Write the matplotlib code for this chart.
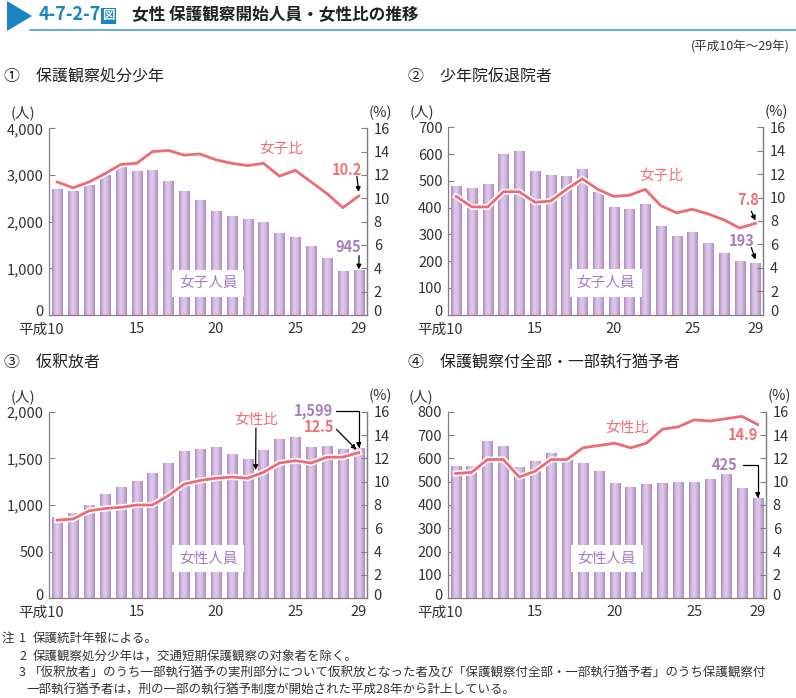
import numpy as np
import matplotlib
matplotlib.use("Agg")
import matplotlib.pyplot as plt
import matplotlib.patheffects as pe
from matplotlib.colors import LinearSegmentedColormap
from matplotlib.patches import Polygon
from matplotlib.lines import Line2D
import matplotlib.transforms as mtransforms

plt.rcParams['font.family'] = ['Noto Sans CJK JP', 'DejaVu Sans']

# ---------------- data ----------------
years = list(range(10, 30))
tick_pos = [0, 5, 10, 15, 19]
tick_labels = ['平成10', '15', '20', '25', '29']

juv_n = [2690, 2640, 2780, 2980, 3180, 3085, 3105, 2865, 2655, 2455,
         2220, 2100, 2055, 1975, 1750, 1670, 1465, 1210, 935, 945]
juv_r = [11.4, 10.9, 11.4, 12.1, 12.9, 13.0, 14.0, 14.1, 13.7, 13.8,
         13.3, 13.0, 12.8, 13.0, 11.9, 12.4, 11.4, 10.4, 9.2, 10.2]

tr_n = [481, 474, 487, 601, 611, 535, 522, 518, 545, 459,
        401, 393, 413, 331, 294, 308, 266, 229, 199, 193]
tr_r = [10.1, 9.2, 9.2, 10.5, 10.5, 9.6, 9.7, 10.7, 11.6, 10.7,
        10.1, 10.2, 10.7, 9.3, 8.7, 9.0, 8.6, 8.1, 7.4, 7.8]

par_n = [864, 911, 989, 1107, 1182, 1254, 1336, 1446, 1571, 1593,
         1618, 1539, 1489, 1586, 1704, 1721, 1611, 1629, 1596, 1599]
par_r = [6.7, 6.8, 7.5, 7.7, 7.8, 8.0, 8.0, 8.8, 9.8, 10.1,
         10.3, 10.4, 10.3, 10.8, 11.6, 11.8, 11.6, 12.1, 12.1, 12.5]

sus_n = [563, 563, 673, 649, 559, 584, 621, 591, 576, 543,
         491, 473, 487, 490, 494, 496, 506, 531, 470, 425]
sus_r = [10.7, 10.8, 11.9, 11.9, 10.4, 10.9, 11.9, 11.9, 12.9, 13.1,
         13.3, 12.9, 13.3, 14.5, 14.7, 15.3, 15.2, 15.4, 15.6, 14.9]

# ---------------- style ----------------
W, H = 796, 698
LINE_C = '#ef6b73'
PINK_T = '#f07078'
PURP_T = '#a77cc0'
SPINE_C = '#808080'
TXT_C = '#333333'
BLUE = '#1a84bd'

bar_cmap = LinearSegmentedColormap.from_list(
    'bar', ['#ad86c1', '#d4bce1', '#dfcde8', '#cbadd9', '#ae88c2'])
grad = np.linspace(0, 1, 64).reshape(1, -1)

fig = plt.figure(figsize=(W / 100, H / 100), dpi=100)


def px_axes(left, top, right, bottom):
    return fig.add_axes([left / W, 1 - bottom / H, (right - left) / W, (bottom - top) / H])


def shift(label, dx_px, dy_px):
    label.set_transform(label.get_transform() +
                        mtransforms.ScaledTranslation(dx_px / 100, dy_px / 100, fig.dpi_scale_trans))


def panel(box, counts, ratio, ymax, ystep, ratio_label, count_label, title, title_xy):
    ax = px_axes(*box)
    x = np.arange(len(counts))
    bars = ax.bar(x, counts, width=0.64, color='#c9aad7', zorder=2, linewidth=0)
    for rect in bars:
        x0 = rect.get_x()
        ax.imshow(grad, cmap=bar_cmap, extent=[x0, x0 + rect.get_width(), 0, rect.get_height()],
                  aspect='auto', zorder=2.5, interpolation='bilinear')
    ax.set_xlim(-0.5, len(counts) - 0.5)
    ax.set_ylim(0, ymax)
    yt = np.arange(0, ymax + 1, ystep)
    ax.set_yticks(yt)
    ax.set_yticklabels([f'{int(v):,}' for v in yt])
    ax.set_xticks(tick_pos)
    ax.set_xticklabels(tick_labels)
    ax.tick_params(axis='y', direction='in', length=4, width=0.8, color=SPINE_C,
                   labelsize=10.5, labelcolor=TXT_C, pad=4)
    ax.tick_params(axis='x', length=0, labelsize=10.5, labelcolor=TXT_C, pad=5)
    first = ax.get_xticklabels()[0]
    first.set_horizontalalignment('right')
    shift(first, 7, -1)
    shift(ax.get_yticklabels()[0], 0, 4)
    for s in ['top']:
        ax.spines[s].set_visible(False)
    for s in ['left', 'right', 'bottom']:
        ax.spines[s].set_color(SPINE_C)
        ax.spines[s].set_linewidth(0.9)

    ax2 = ax.twinx()
    ax2.plot(x, ratio, color=LINE_C, lw=2.0, zorder=5, solid_joinstyle='miter',
             path_effects=[pe.Stroke(linewidth=4.3, foreground='white'), pe.Normal()])
    ax2.set_ylim(0, 16)
    ax2.set_yticks(range(0, 17, 2))
    ax2.tick_params(axis='y', direction='in', length=4, width=0.8, color=SPINE_C,
                    labelsize=10.5, labelcolor=TXT_C, pad=5)
    shift(ax2.get_yticklabels()[0], 0, 4)
    for s in ['top', 'left', 'bottom']:
        ax2.spines[s].set_visible(False)
    ax2.spines['right'].set_color(SPINE_C)
    ax2.spines['right'].set_linewidth(0.9)

    ax.text(-0.083, 1.082, '(人)', transform=ax.transAxes, ha='center', va='center',
            fontsize=10.5, color=TXT_C)
    ax.text(1.043, 1.082, '(%)', transform=ax.transAxes, ha='center', va='center',
            fontsize=10.5, color=TXT_C)
    ax2.text(0.5, count_label[1], count_label[0], transform=ax2.transAxes, ha='center',
             va='center', fontsize=10.5, color=PURP_T, zorder=6,
             bbox=dict(boxstyle='square,pad=0.45', fc='white', ec='none'))
    ax2.text(ratio_label[1], ratio_label[2], ratio_label[0], transform=ax2.transAxes,
             ha='center', va='center', fontsize=10.5, color=PINK_T, zorder=6)
    fig.text(title_xy[0] / W, 1 - title_xy[1] / H, title, ha='left', va='center',
             fontsize=11.5, color='#222222')
    return ax, ax2


arrow_kw = dict(arrowstyle='-|>', color='black', lw=0.9, mutation_scale=7,
                shrinkA=0, shrinkB=0)

# ① 保護観察処分少年
ax, ax2 = panel((49.3, 128.3, 366.7, 315), juv_n, juv_r, 4000, 1000,
                ('女子比', 0.730, 0.889), ('女子人員', 0.171),
                '①\u3000保護観察処分少年', (4, 77))
ax2.text(0.938, 0.777, f'{juv_r[-1]:.1f}', transform=ax2.transAxes, ha='center', va='center',
         fontsize=10.5, color=PINK_T, fontweight='bold')
ax2.annotate('', xy=(19, juv_r[-1] + 0.35), xycoords='data', xytext=(0.969, 0.742),
             textcoords='axes fraction', arrowprops=arrow_kw)
ax2.text(0.941, 0.364, f'{juv_n[-1]:,}', transform=ax2.transAxes, ha='center', va='center',
         fontsize=10.5, color=PURP_T, fontweight='bold')
ax.annotate('', xy=(19, juv_n[-1] + 30), xycoords='data', xytext=(0.976, 0.318),
            textcoords='axes fraction', arrowprops=arrow_kw, zorder=6)

# ② 少年院仮退院者
ax, ax2 = panel((448.3, 127.3, 763.3, 314.7), tr_n, tr_r, 700, 100,
                ('女子比', 0.675, 0.740), ('女子人員', 0.169),
                '②\u3000少年院仮退院者', (408, 77))
ax2.text(0.951, 0.612, f'{tr_r[-1]:.1f}', transform=ax2.transAxes, ha='center', va='center',
         fontsize=10.5, color=PINK_T, fontweight='bold')
ax2.annotate('', xy=(19, tr_r[-1] + 0.25), xycoords='data', xytext=(0.962, 0.552),
             textcoords='axes fraction', arrowprops=arrow_kw)
ax2.text(0.932, 0.393, f'{tr_n[-1]:,}', transform=ax2.transAxes, ha='center', va='center',
         fontsize=10.5, color=PURP_T, fontweight='bold')
ax2.annotate('', xy=(19, tr_n[-1] / 700 * 16 + 0.3), xycoords='data',
             xytext=(0.962, 0.358), textcoords='axes fraction', arrowprops=arrow_kw)

# ③ 仮釈放者
ax, ax2 = panel((49.3, 411.7, 366.7, 598.3), par_n, par_r, 2000, 500,
                ('女性比', 0.651, 0.956), ('女性人員', 0.211),
                '③\u3000仮釈放者', (4, 362))
ax2.annotate('', xy=(12.5, (par_r[12] + par_r[13]) / 2 + 0.45), xycoords='data',
             xytext=(0.651, 0.912), textcoords='axes fraction', arrowprops=arrow_kw)
ax2.text(0.831, 1.003, f'{par_n[-1]:,}', transform=ax2.transAxes, ha='center', va='center',
         fontsize=10.5, color=PURP_T, fontweight='bold', clip_on=False)
ax2.annotate('', xy=(19, par_n[-1] / 2000 * 16 + 0.1), xycoords='data',
             xytext=(0.903, 1.003), textcoords='axes fraction',
             arrowprops=dict(arrow_kw, connectionstyle='angle,angleA=0,angleB=90,rad=0'))
ax2.text(0.850, 0.918, f'{par_r[-1]:.1f}', transform=ax2.transAxes, ha='center', va='center',
         fontsize=10.5, color=PINK_T, fontweight='bold')
ax2.annotate('', xy=(18.85, par_r[-1] + 0.25), xycoords='data', xytext=(0.905, 0.905),
             textcoords='axes fraction', arrowprops=arrow_kw)

# ④ 保護観察付全部・一部執行猶予者
ax, ax2 = panel((447.7, 411.7, 765.7, 598.3), sus_n, sus_r, 800, 100,
                ('女性比', 0.565, 0.913), ('女性人員', 0.211),
                '④\u3000保護観察付全部・一部執行猶予者', (408, 363))
ax2.text(0.929, 0.875, f'{sus_r[-1]:.1f}', transform=ax2.transAxes, ha='center', va='center',
         fontsize=10.5, color=PINK_T, fontweight='bold')
ax2.text(0.872, 0.714, f'{sus_n[-1]:,}', transform=ax2.transAxes, ha='center', va='center',
         fontsize=10.5, color=PURP_T, fontweight='bold')
ax2.annotate('', xy=(19, sus_n[-1] / 800 * 16 + 0.1), xycoords='data',
             xytext=(0.929, 0.714), textcoords='axes fraction',
             arrowprops=dict(arrow_kw, connectionstyle='angle,angleA=0,angleB=90,rad=0'))

# ---------------- header ----------------
tri = Polygon([[7 / W, 1 - 1 / H], [7 / W, 1 - 31 / H], [32 / W, 1 - 16 / H]],
              closed=True, transform=fig.transFigure, color=BLUE, lw=0)
fig.patches.append(tri)
fig.add_artist(Line2D([30 / W, 1], [1 - 30 / H, 1 - 30 / H], transform=fig.transFigure,
                      color='#4aa0d2', lw=1.2))
fig.text(39 / W, 1 - 15 / H, '4-7-2-7', ha='left', va='center', fontsize=13,
         fontweight='bold', color=BLUE)
fig.text(108.5 / W, 1 - 15.5 / H, '図', ha='center', va='center', fontsize=9,
         fontweight='bold', color='white',
         bbox=dict(boxstyle='square,pad=0.12', fc=BLUE, ec='none'))
fig.text(132 / W, 1 - 15 / H, '女性 保護観察開始人員・女性比の推移', ha='left', va='center',
         fontsize=12, fontweight='bold', color='#222222')
fig.text(790 / W, 1 - 47 / H, '(平成10年～29年)', ha='right', va='center',
         fontsize=9, color=TXT_C)

# ---------------- notes ----------------
notes = [
    (2, 19, 33, 638, '注', '1', '保護統計年報による。'),
    (None, 19, 33, 656, '', '2', '保護観察処分少年は，交通短期保護観察の対象者を除く。'),
    (None, 19, 29, 673, '', '3', '「仮釈放者」のうち一部執行猶予の実刑部分について仮釈放となった者及び「保護観察付全部・一部執行猶予者」のうち保護観察付'),
    (None, None, 26, 690, '', '', '一部執行猶予者は，刑の一部の執行猶予制度が開始された平成28年から計上している。'),
]
for xz, xn, xt, y, z, n, t in notes:
    if xz is not None:
        fig.text(xz / W, 1 - y / H, z, ha='left', va='center', fontsize=9, color=TXT_C)
    if xn is not None:
        fig.text(xn / W, 1 - y / H, n, ha='left', va='center', fontsize=9, color=TXT_C)
    fig.text(xt / W, 1 - y / H, t, ha='left', va='center', fontsize=9, color=TXT_C)

fig.savefig('out.png', dpi=100)
